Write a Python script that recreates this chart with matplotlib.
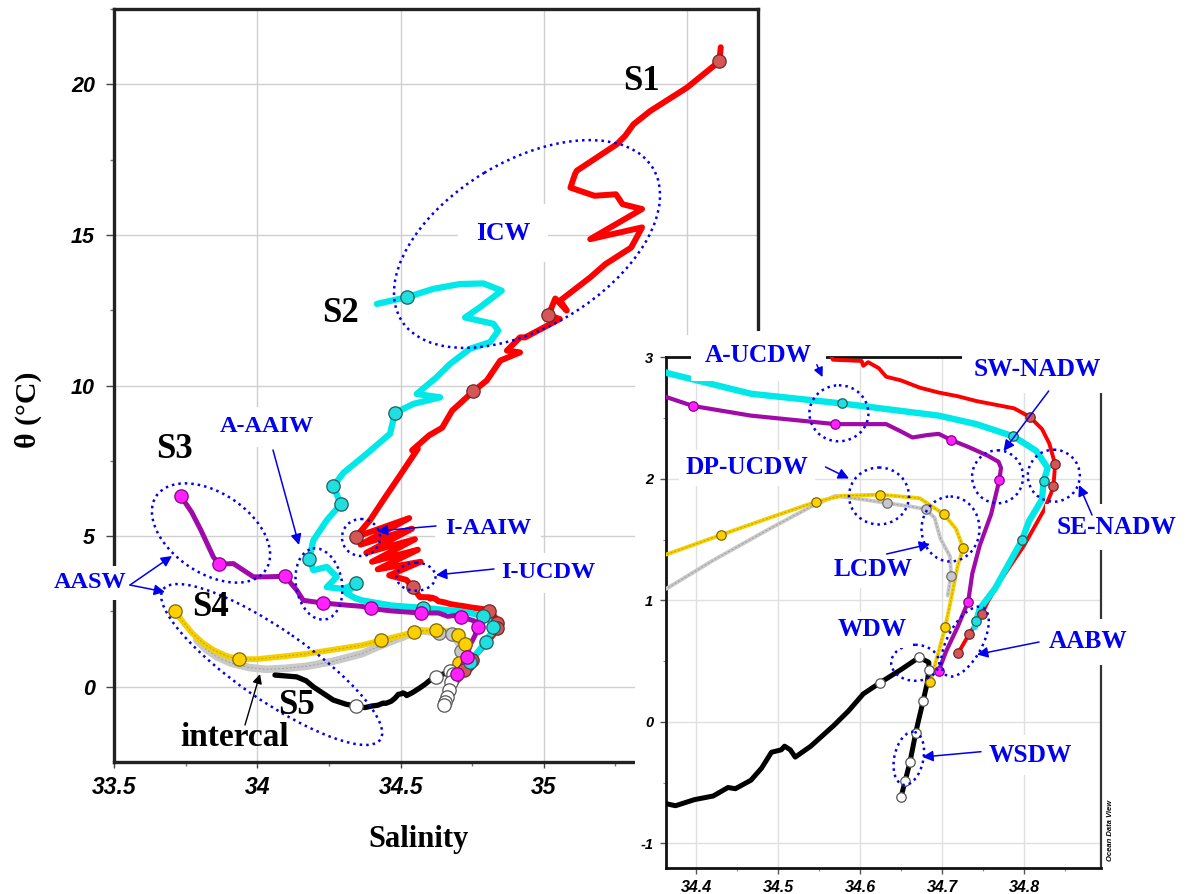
import matplotlib
matplotlib.use("Agg")
import matplotlib.pyplot as plt
from matplotlib.patches import Ellipse, Rectangle
from matplotlib.transforms import Affine2D

# ---------------- data (salinity, potential temperature) ----------------
s1_sal = [35.618, 35.613, 35.50, 35.371, 35.313, 35.284, 35.255, 35.115, 35.109, 35.093,
          35.177, 35.252, 35.275, 35.343, 35.162, 35.343, 35.305, 35.215, 35.162, 35.057,
          35.080, 35.040, 35.025, 35.013, 35.056, 34.935, 34.917, 34.871, 34.917, 34.848,
          34.801, 34.754, 34.680, 34.645, 34.600, 34.540, 34.560, 34.500, 34.443, 34.393,
          34.343, 34.530, 34.360, 34.540, 34.380, 34.550, 34.400, 34.560, 34.420, 34.570,
          34.460, 34.520, 34.542, 34.567, 34.602, 34.604, 34.610, 34.623, 34.632, 34.650,
          34.673, 34.696, 34.719, 34.742, 34.765, 34.788, 34.807, 34.822, 34.831, 34.838,
          34.837, 34.836, 34.833, 34.825, 34.800, 34.770, 34.756, 34.749, 34.733, 34.720]
s1_theta = [21.23, 20.76, 19.89, 19.11, 18.67, 18.29, 18.01, 17.13, 17.02, 16.57,
            16.30, 16.35, 16.02, 15.86, 14.86, 15.25, 14.58, 14.03, 13.59, 12.82,
            12.49, 12.89, 12.54, 12.35, 12.21, 11.60, 11.60, 11.16, 11.10, 10.83,
            10.17, 9.81, 9.17, 8.60, 8.35, 7.85, 7.90, 7.05, 6.25, 5.53,
            4.97, 5.60, 4.72, 5.25, 4.45, 4.90, 4.15, 4.55, 3.90, 4.15,
            3.70, 3.55, 3.31, 2.98, 2.97, 2.93, 2.96, 2.91, 2.84, 2.81,
            2.75, 2.71, 2.68, 2.64, 2.61, 2.58, 2.51, 2.41, 2.29, 2.12,
            2.03, 1.94, 1.88, 1.75, 1.45, 1.15, 0.99, 0.89, 0.72, 0.57]
s1_mk_sal = [35.613, 35.013, 34.754, 34.343, 34.542, 34.807, 34.838, 34.836, 34.749, 34.733, 34.720]
s1_mk_theta = [20.76, 12.35, 9.81, 4.97, 3.31, 2.51, 2.12, 1.94, 0.89, 0.72, 0.57]

s2_sal = [34.417, 34.521, 34.614, 34.707, 34.789, 34.853, 34.777, 34.725, 34.824, 34.841,
          34.812, 34.742, 34.673, 34.626, 34.556, 34.638, 34.544, 34.480, 34.463, 34.382,
          34.300, 34.265, 34.291, 34.242, 34.195, 34.181, 34.195, 34.242, 34.277, 34.242,
          34.300, 34.344, 34.312, 34.340, 34.365, 34.467, 34.578, 34.696, 34.742, 34.787,
          34.815, 34.829, 34.824, 34.822, 34.806, 34.798, 34.765, 34.746, 34.742, 34.740]
s2_theta = [12.71, 12.93, 13.21, 13.37, 13.39, 13.15, 12.60, 12.26, 12.05, 11.82,
            11.44, 11.22, 10.72, 10.28, 9.72, 9.61, 9.39, 9.09, 8.40, 7.74,
            7.10, 6.66, 6.06, 5.53, 4.86, 4.24, 3.87, 3.98, 3.65, 3.31,
            3.25, 3.43, 3.10, 2.95, 2.87, 2.70, 2.62, 2.52, 2.45, 2.35,
            2.23, 2.09, 1.98, 1.83, 1.65, 1.50, 1.10, 0.93, 0.83, 0.78]
s2_mk_sal = [34.521, 34.480, 34.265, 34.291, 34.181, 34.344, 34.578, 34.787, 34.824, 34.798, 34.742]
s2_mk_theta = [12.93, 9.09, 6.66, 6.06, 4.24, 3.43, 2.62, 2.35, 1.98, 1.50, 0.83]

s3_sal = [33.733, 33.770, 33.803, 33.846, 33.866, 33.916, 33.951, 33.986, 34.032, 34.096,
          34.137, 34.160, 34.230, 34.300, 34.365, 34.396, 34.467, 34.570, 34.632, 34.650,
          34.664, 34.682, 34.696, 34.711, 34.733, 34.756, 34.769, 34.772, 34.770, 34.760,
          34.746, 34.737, 34.732, 34.719, 34.705, 34.696]
s3_theta = [6.32, 5.80, 5.19, 4.31, 4.07, 4.09, 3.87, 3.65, 3.65, 3.67,
            3.21, 2.87, 2.78, 2.72, 2.67, 2.60, 2.52, 2.45, 2.45, 2.39,
            2.34, 2.36, 2.37, 2.32, 2.26, 2.19, 2.14, 2.09, 1.99, 1.71,
            1.45, 1.22, 0.99, 0.78, 0.58, 0.42]
s3_mk_sal = [33.733, 33.866, 34.096, 34.230, 34.396, 34.570, 34.711, 34.770, 34.732, 34.696]
s3_mk_theta = [6.32, 4.07, 3.67, 2.78, 2.60, 2.45, 2.32, 1.99, 0.99, 0.42]

s4_sal = [33.712, 33.740, 33.773, 33.810, 33.847, 33.890, 33.934, 34.000, 34.070, 34.160,
          34.257, 34.365, 34.431, 34.490, 34.546, 34.577, 34.625, 34.673, 34.702, 34.717,
          34.726, 34.719, 34.712, 34.704, 34.696, 34.689, 34.686]
s4_theta = [2.52, 2.15, 1.77, 1.45, 1.22, 1.03, 0.91, 0.92, 0.99, 1.08,
            1.22, 1.38, 1.54, 1.68, 1.81, 1.86, 1.87, 1.84, 1.71, 1.59,
            1.43, 1.28, 1.04, 0.78, 0.58, 0.41, 0.33]
s4_mk_sal = [33.712, 33.934, 34.431, 34.546, 34.625, 34.702, 34.726, 34.704, 34.686]
s4_mk_theta = [2.52, 0.91, 1.54, 1.81, 1.87, 1.71, 1.43, 0.78, 0.33]

intercal_sal = [33.788, 33.820, 33.859, 33.910, 33.971, 34.030, 34.095, 34.170, 34.257, 34.365,
                34.421, 34.490, 34.540, 34.570, 34.604, 34.633, 34.664, 34.680, 34.691, 34.698,
                34.710, 34.711, 34.707]
intercal_theta = [1.55, 1.25, 0.99, 0.78, 0.64, 0.58, 0.61, 0.68, 0.83, 1.10,
                  1.33, 1.59, 1.77, 1.86, 1.83, 1.80, 1.77, 1.75, 1.68, 1.51,
                  1.36, 1.20, 1.04]
intercal_mk_sal = [34.633, 34.680, 34.711]
intercal_mk_theta = [1.80, 1.75, 1.20]

s5_sal = [34.061, 34.137, 34.170, 34.195, 34.230, 34.265, 34.310, 34.344, 34.368, 34.375,
          34.398, 34.421, 34.439, 34.448, 34.467, 34.480, 34.492, 34.504, 34.508, 34.515,
          34.521, 34.540, 34.568, 34.586, 34.604, 34.624, 34.650, 34.672, 34.684, 34.684,
          34.682, 34.677, 34.671, 34.668, 34.661, 34.655, 34.650]
s5_theta = [0.39, 0.33, 0.20, 0.00, -0.22, -0.44, -0.58, -0.64, -0.68, -0.69,
            -0.64, -0.61, -0.54, -0.55, -0.48, -0.38, -0.25, -0.23, -0.20, -0.23,
            -0.29, -0.20, -0.03, 0.09, 0.23, 0.32, 0.43, 0.53, 0.49, 0.43,
            0.32, 0.17, 0.00, -0.09, -0.33, -0.49, -0.62]
s5_mk_sal = [34.344, 34.624, 34.672, 34.684, 34.677, 34.668, 34.661, 34.655, 34.650]
s5_mk_theta = [-0.64, 0.32, 0.53, 0.43, 0.17, -0.09, -0.33, -0.49, -0.62]

main_xticks = [33.5, 34.0, 34.5, 35.0, 35.5]
main_xlabels = ["33.5", "34", "34.5", "35", "35.5"]
main_yticks = [0, 5, 10, 15, 20]
main_ylabels = ["0", "5", "10", "15", "20"]
inset_xticks = [34.4, 34.5, 34.6, 34.7, 34.8]
inset_xlabels = ["34.4", "34.5", "34.6", "34.7", "34.8"]
inset_yticks = [-1, 0, 1, 2, 3]
inset_ylabels = ["-1", "0", "1", "2", "3"]

# ---------------- figure ----------------
W, H, DPI = 1191, 894, 100
fig = plt.figure(figsize=(W / DPI, H / DPI), dpi=DPI)
PX = Affine2D().scale(1, -1).translate(0, H)   # reference pixel coords (y down)

SERIF = "Liberation Serif"
SANS = "Liberation Sans"
BLUE = "#0000ee"

ax = fig.add_axes([114.3 / W, (H - 761.7) / H, (757.7 - 114.3) / W, (761.7 - 9) / H], zorder=0)
ax.set_xlim(33.5, 35.747)
ax.set_ylim(-2.486, 22.46)

ax2 = fig.add_axes([665.7 / W, (H - 867.7) / H, (1101 - 665.7) / W, (867.7 - 357.3) / H], zorder=2)
ax2.set_xlim(34.363, 34.894)
ax2.set_ylim(-1.2, 3.0)

# white panel behind inset
fig.add_artist(Rectangle((635, 335), W - 635, H - 335, transform=PX,
                         facecolor="white", edgecolor="none", zorder=1))

series = [
    dict(sal=intercal_sal, th=intercal_theta, msal=intercal_mk_sal, mth=intercal_mk_theta,
         color="#c9c9c9", core="#808080", lw=(5.5, 2.8), face="#c8c8c8", edge="#6e6e6e"),
    dict(sal=s4_sal, th=s4_theta, msal=s4_mk_sal, mth=s4_mk_theta,
         color="#f4d000", core="#9a8200", lw=(4.2, 2.8), face="#ffd000", edge="#7d6a00"),
    dict(sal=s5_sal, th=s5_theta, msal=s5_mk_sal, mth=s5_mk_theta,
         color="#000000", core=None, lw=(3.8, 3.6), face="white", edge="#555555"),
    dict(sal=s1_sal, th=s1_theta, msal=s1_mk_sal, mth=s1_mk_theta,
         color="#ff0000", core=None, lw=(4.3, 2.8), face="#d65555", edge="#6a2a2a"),
    dict(sal=s2_sal, th=s2_theta, msal=s2_mk_sal, mth=s2_mk_theta,
         color="#00e8e8", core=None, lw=(4.5, 4.6), face="#22dede", edge="#1d5f5f"),
    dict(sal=s3_sal, th=s3_theta, msal=s3_mk_sal, mth=s3_mk_theta,
         color="#a00aa8", core=None, lw=(3.6, 3.0), face="#ff22ff", edge="#8a008a"),
]

for a, k, ms in ((ax, 0, 9.6), (ax2, 1, 6.8)):
    for i, s in enumerate(series):
        a.plot(s["sal"], s["th"], color=s["color"], lw=s["lw"][k], solid_capstyle="round",
               solid_joinstyle="round", zorder=3 + i * 0.1)
        if s["core"] is not None:
            a.plot(s["sal"], s["th"], color=s["core"], lw=0.7, alpha=0.6,
                   ls=(0, (2, 2)), zorder=3.05 + i * 0.1)
    for i, s in enumerate(series):
        a.plot(s["msal"], s["mth"], ls="none", marker="o", ms=ms, mfc=s["face"],
               mec=s["edge"], mew=0.9, zorder=4 + i * 0.1)

# ---------------- axes styling ----------------
ax.set_xticks(main_xticks, main_xlabels, fontsize=16.5, fontweight="bold",
              fontstyle="italic", family=SANS)
ax.set_yticks(main_yticks, main_ylabels, fontsize=15.5, fontweight="bold",
              fontstyle="italic", family=SANS)
ax.set_xticks([33.75, 34.25, 34.75, 35.25], minor=True)
ax.set_yticks([2.5, 7.5, 12.5, 17.5, 22.5], minor=True)
ax.tick_params(axis="x", which="major", length=4, width=1, pad=6, color="#444")
ax.tick_params(axis="y", which="major", length=6, width=1, pad=8, color="#444")
ax.tick_params(which="minor", length=3, width=1, color="#777")
ax.grid(True, which="major", color="#cfcfcf", lw=1.0, zorder=0)
ax.set_axisbelow(True)
for sp in ax.spines.values():
    sp.set_linewidth(2.4)
    sp.set_color("#222222")

ax2.set_xticks(inset_xticks, inset_xlabels, fontsize=11.5, fontweight="bold",
               fontstyle="italic", family=SANS)
ax2.set_yticks(inset_yticks, inset_ylabels, fontsize=10.5, fontweight="bold",
               fontstyle="italic", family=SANS)
ax2.set_xticks([34.45, 34.55, 34.65, 34.75, 34.85], minor=True)
ax2.set_yticks([-0.5, 0.5, 1.5, 2.5], minor=True)
ax2.tick_params(which="major", length=4, width=1, pad=5, color="#555")
ax2.tick_params(which="minor", length=2.5, width=0.8, color="#888")
ax2.grid(True, which="major", color="#e0e0e0", lw=1.0)
ax2.set_axisbelow(True)
for name, sp in ax2.spines.items():
    sp.set_linewidth(2.0 if name in ("left", "bottom", "top") else 1.6)
    sp.set_color("#111111" if name != "right" else "#333333")

fig.text(28, 410, "θ (°C)", transform=PX, rotation=90, ha="center", va="center",
         fontsize=21.5, family=SERIF, fontweight="bold")
fig.text(418, 840, "Salinity", transform=PX, ha="center", va="center",
         fontsize=22, family=SERIF, fontweight="bold")

# ---------------- annotations ----------------
def ell(a, cx, cy, w, h, ang=0.0):
    e = Ellipse((cx, cy), w, h, angle=-ang, transform=PX, fill=False, edgecolor=BLUE,
                lw=1.8, ls=(0, (1, 1.6)), zorder=6)
    a.add_patch(e)

def lab(a, x, y, s, size, color=BLUE, box=True, pad=0.5):
    kw = dict(transform=PX, ha="center", va="center", fontsize=size, family=SERIF,
              fontweight="bold", color=color, zorder=7)
    if box:
        kw["bbox"] = dict(boxstyle=f"square,pad={pad}", facecolor="white", edgecolor="none")
    a.text(x, y, s, **kw)

def arr(a, x0, y0, x1, y1, color=BLUE, lw=1.1, hs=16):
    a.annotate("", xy=(x1, y1), xytext=(x0, y0), xycoords=PX, textcoords=PX,
               arrowprops=dict(arrowstyle="-|>", color=color, lw=lw, mutation_scale=hs,
                               shrinkA=0, shrinkB=0), zorder=8)

# main plot
ell(ax, 527, 244, 294, 166, 31)
ell(ax, 211, 533, 132, 80, -34)
ell(ax, 271.7, 664.5, 264, 71, -34.6)
ell(ax, 319, 584, 46, 72, 10)
ell(ax, 361, 537.5, 38, 37)
ell(ax, 416, 576.7, 39, 28)

for x, y, s in ((641.7, 82, "S1"), (340, 313, "S2"), (175, 450, "S3"),
                (210, 608, "S4"), (297, 705, "S5")):
    lab(ax, x, y, s, 25, color="black", box=False)
lab(ax, 235, 737, "intercal", 24, color="black", box=False)
lab(ax, 503, 233, "ICW", 18.5, pad=0.7)
lab(ax, 267, 427, "A-AAIW", 17.5, pad=0.4)
lab(ax, 488, 528, "I-AAIW", 17.5, pad=0.4)
lab(ax, 548.5, 573, "I-UCDW", 17.5, pad=0.4)
lab(ax, 90, 583, "AASW", 17.5, pad=0.25)

arr(ax, 273, 450, 299, 545)
arr(ax, 436, 526, 377, 531)
arr(ax, 494, 569, 436, 575)
arr(ax, 130, 585, 172, 556)
arr(ax, 130, 585, 165, 592)
arr(ax, 245, 725, 260, 674, color="black", lw=1.0, hs=14)

# inset
ell(ax2, 838.9, 413.3, 59, 56)
ell(ax2, 879, 496, 60, 57)
ell(ax2, 950.5, 529, 58, 65)
ell(ax2, 997.6, 476.8, 51, 53)
ell(ax2, 1053.8, 475.7, 52, 52)
ell(ax2, 915.2, 662.8, 48, 36)
ell(ax2, 965, 641.6, 77, 35, 62)
ell(ax2, 908.8, 758.4, 29, 54, -12)

lab(ax2, 758.4, 356, "A-UCDW", 18.3, pad=0.55)
lab(ax2, 1037, 370, "SW-NADW", 18.3, pad=0.45)
lab(ax2, 1116.6, 527, "SE-NADW", 18.3, pad=0.45)
lab(ax2, 747, 468, "DP-UCDW", 18.3, pad=0.25)
lab(ax2, 873.4, 570, "LCDW", 18.3, pad=0.25)
lab(ax2, 872.3, 630, "WDW", 18.3, pad=0.25)
lab(ax2, 1088, 642, "AABW", 18.3, pad=0.45)
lab(ax2, 1030, 755, "WSDW", 18.3, pad=0.35)

arr(ax2, 816.8, 364.7, 822.5, 377.1, hs=14)
arr(ax2, 1048.7, 391, 1003.5, 451)
arr(ax2, 1092, 515, 1079, 485)
arr(ax2, 825.5, 467, 849, 478.5)
arr(ax2, 886.6, 554, 930, 544)
arr(ax2, 1039, 642, 977, 654.5)
arr(ax2, 981, 751.7, 922.4, 757)

fig.text(1110, 830, "Ocean Data View", transform=PX, rotation=90, ha="center", va="center",
         fontsize=5.5, family=SANS, fontweight="bold", fontstyle="italic", zorder=9)

fig.savefig("out.png", dpi=DPI)
